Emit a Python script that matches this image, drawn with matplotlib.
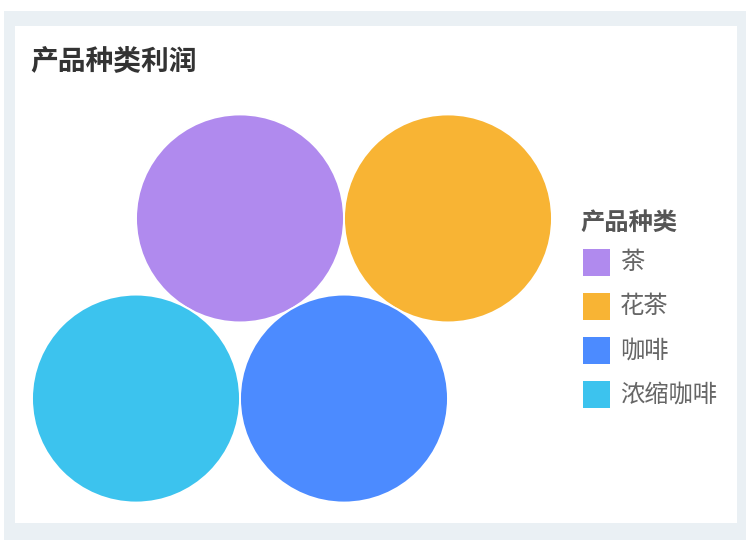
import numpy as np
import matplotlib.pyplot as plt
from matplotlib.patches import Circle, Rectangle

plt.rcParams['font.family'] = ['Noto Sans CJK SC', 'DejaVu Sans']

# 产品种类利润 (equal-sized bubbles)
categories = ['茶', '花茶', '咖啡', '浓缩咖啡']
profit = [100, 100, 100, 100]
colors = ['#B08AEE', '#F8B434', '#4C8BFF', '#3CC3EE']

title = '产品种类利润'
legend_title = '产品种类'

W, H = 750, 540
R_MAX = 104  # px radius of the largest bubble


def tangent_to_two(ca, ra, cb, rb, r, side):
    # centre of a circle of radius r touching circles a and b
    da, db = ra + r, rb + r
    d = np.linalg.norm(cb - ca)
    a = (da**2 - db**2 + d**2) / (2 * d)
    h = np.sqrt(max(da**2 - a**2, 0))
    u = (cb - ca) / d
    p = ca + a * u
    perp = np.array([-u[1], u[0]])
    return p + side * h * perp


def pack(values):
    v = np.asarray(values, dtype=float)
    radii = R_MAX * np.sqrt(v / v.max())
    centers = [np.array([0.0, 0.0])]
    centers.append(np.array([radii[0] + radii[1], 0.0]))
    # third sits under the first two, fourth to the lower left
    centers.append(tangent_to_two(centers[0], radii[0], centers[1], radii[1], radii[2], 1))
    centers.append(tangent_to_two(centers[0], radii[0], centers[2], radii[2], radii[3], 1))
    return np.array(centers), radii


fig = plt.figure(figsize=(W / 100, H / 100), dpi=100)
ax = fig.add_axes([0, 0, 1, 1])
ax.set_xlim(0, W)
ax.set_ylim(H, 0)
ax.set_aspect('equal')
ax.axis('off')

# page frame and white card
ax.add_patch(Rectangle((4, 11), 742, 529, facecolor='#EAF0F4', edgecolor='none'))
ax.add_patch(Rectangle((15, 26), 722, 497, facecolor='white', edgecolor='none'))

centers, radii = pack(profit)
lo = (centers - radii[:, None]).min(axis=0)
hi = (centers + radii[:, None]).max(axis=0)
offset = np.array([292, 308.5]) - (lo + hi) / 2
for c, r, col in zip(centers + offset, radii, colors):
    ax.add_patch(Circle(c, r, facecolor=col, edgecolor='white', linewidth=1.4))

ax.text(30, 61, title, fontsize=20, fontweight='bold', color='#333333',
        ha='left', va='center')

# legend
ax.text(580, 223, legend_title, fontsize=17.5, fontweight='bold', color='#555555',
        ha='left', va='center')
for i, (name, col) in enumerate(zip(categories, colors)):
    y = 262 + i * 44
    ax.add_patch(Rectangle((583, y - 13.5), 27, 27, facecolor=col, edgecolor='none'))
    ax.text(620, y, name, fontsize=17.5, color='#666666', ha='left', va='center')

fig.savefig('out.png', dpi=100)
